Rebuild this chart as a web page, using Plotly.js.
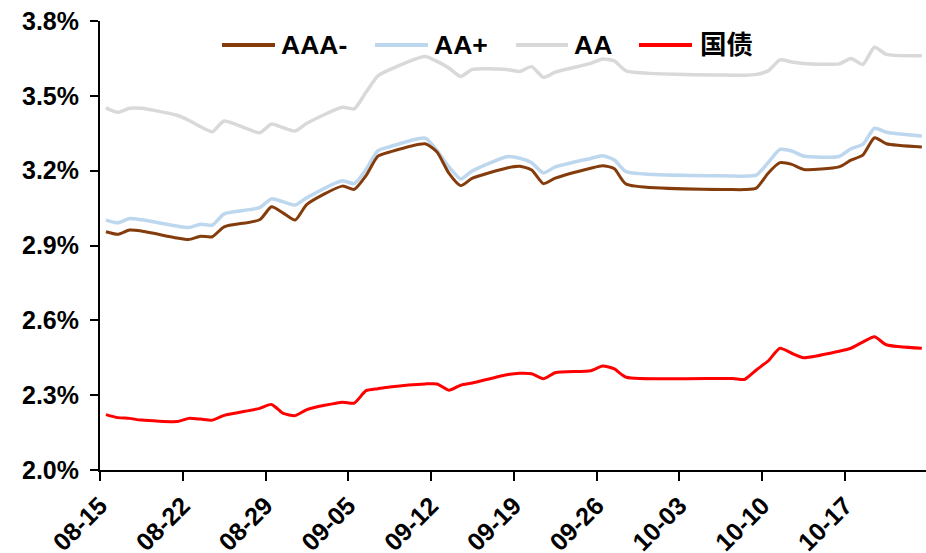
<!DOCTYPE html>
<html><head><meta charset="utf-8">
<script src="https://cdn.plot.ly/plotly-3.0.1.min.js"></script>
<style>html,body{margin:0;padding:0;background:#fff}#chart{width:926px;height:553px}</style>
</head><body><div id="chart"></div>
<script>
const dates = ['2023-08-15','2023-08-16','2023-08-17','2023-08-18','2023-08-21','2023-08-22','2023-08-23','2023-08-24','2023-08-25','2023-08-28','2023-08-29','2023-08-30','2023-08-31','2023-09-01','2023-09-04','2023-09-05','2023-09-06','2023-09-07','2023-09-08','2023-09-11','2023-09-12','2023-09-13','2023-09-14','2023-09-15','2023-09-18','2023-09-19','2023-09-20','2023-09-21','2023-09-22','2023-09-25','2023-09-26','2023-09-27','2023-09-28','2023-10-07','2023-10-08','2023-10-09','2023-10-10','2023-10-11','2023-10-12','2023-10-13','2023-10-16','2023-10-17','2023-10-18','2023-10-19','2023-10-20','2023-10-23'];

const aaaMinus = [2.955,2.945,2.962,2.958,2.930,2.924,2.937,2.935,2.975,3.003,3.055,3.030,3.002,3.065,3.138,3.125,3.180,3.258,3.275,3.308,3.275,3.190,3.140,3.170,3.212,3.218,3.203,3.148,3.170,3.210,3.220,3.208,3.146,3.124,3.124,3.130,3.190,3.232,3.225,3.205,3.215,3.242,3.262,3.332,3.308,3.295];

const aaPlus = [3.002,2.991,3.008,3.003,2.978,2.972,2.985,2.982,3.027,3.052,3.087,3.075,3.062,3.092,3.160,3.148,3.205,3.280,3.296,3.330,3.280,3.215,3.167,3.200,3.257,3.250,3.232,3.191,3.215,3.249,3.260,3.243,3.196,3.179,3.178,3.182,3.232,3.285,3.279,3.259,3.257,3.288,3.305,3.370,3.354,3.339];

const aa = [3.452,3.434,3.450,3.450,3.422,3.402,3.376,3.356,3.399,3.352,3.387,3.372,3.359,3.390,3.454,3.448,3.515,3.580,3.605,3.658,3.638,3.612,3.578,3.606,3.605,3.598,3.617,3.574,3.595,3.630,3.648,3.640,3.600,3.583,3.583,3.586,3.600,3.644,3.636,3.630,3.628,3.650,3.626,3.695,3.666,3.661];

const govt = [2.222,2.210,2.207,2.200,2.194,2.207,2.204,2.200,2.219,2.247,2.263,2.227,2.218,2.242,2.272,2.268,2.318,2.326,2.333,2.345,2.345,2.320,2.340,2.349,2.383,2.388,2.386,2.366,2.390,2.398,2.417,2.405,2.372,2.367,2.363,2.401,2.437,2.488,2.468,2.450,2.476,2.488,2.513,2.534,2.502,2.488];

const seriesNames = ['AAA-','AA+','AA','国债'];
const seriesColors = ['#843C0C','#BDD7EE','#D9D9D9','#FF0000'];
const yTicks = [2.0,2.3,2.6,2.9,3.2,3.5,3.8];
const xTickDates = ['2023-08-15','2023-08-22','2023-08-29','2023-09-05','2023-09-12','2023-09-19','2023-09-26','2023-10-03','2023-10-10','2023-10-17'];
const xTickLabels = ['08-15','08-22','08-29','09-05','09-12','09-19','09-26','10-03','10-10','10-17'];

const xs = dates.map(d => d + ' 12:00');
const FONT = 'Arial, "Liberation Sans", "Noto Sans CJK SC", sans-serif';

function tr(y, i, width) {
  return {x: xs, y: y, name: seriesNames[i], type: 'scatter', mode: 'lines',
    line: {color: seriesColors[i], width: width, shape: 'spline', smoothing: 0.6},
    showlegend: false, hoverinfo: 'skip'};
}
const data = [
  tr(aa, 2, 3.5),
  tr(aaPlus, 1, 3.5),
  tr(aaaMinus, 0, 3),
  tr(govt, 3, 3)
];

// legend drawn as shapes + text (pixel layout converted to paper coords)
const L = 100, W = 826, T = 21, H = 449;
const px = v => (v - L) / W;
const py = v => (T + H - v) / H;
const legendSample = [[222, 275], [375, 428], [516, 568], [639, 692]];
const legendTextX = [279, 432, 572, 698];
const legendY = 45;
const shapes = legendSample.map((s, i) => ({type: 'line', xref: 'paper', yref: 'paper',
  x0: px(s[0]), x1: px(s[1]), y0: py(legendY), y1: py(legendY),
  line: {color: seriesColors[i], width: 4}}));
const annotations = legendTextX.map((x, i) => ({xref: 'paper', yref: 'paper',
  x: px(x), y: py(legendY), xanchor: 'left', yanchor: 'middle', showarrow: false,
  text: seriesNames[i], font: {family: FONT, size: 26.5, color: '#000', weight: 'bold'}}));

const layout = {
  width: 926, height: 553,
  margin: {l: L, r: 0, t: T, b: 83, pad: 0},
  paper_bgcolor: '#fff', plot_bgcolor: '#fff',
  font: {family: FONT, size: 25, color: '#000', weight: 'bold'},
  showlegend: false,
  shapes: shapes, annotations: annotations,
  xaxis: {type: 'date', range: ['2023-08-15', '2023-10-23 20:24'],
    tickvals: xTickDates, ticktext: xTickLabels, tickangle: -45,
    showline: true, linecolor: '#000', linewidth: 2,
    ticks: 'outside', ticklen: 9, tickwidth: 2, tickcolor: '#000',
    showgrid: false, zeroline: false,
    tickfont: {family: FONT, size: 25, color: '#000', weight: 'bold'}},
  yaxis: {range: [2.0, 3.8], tickvals: yTicks, ticktext: yTicks.map(v => v.toFixed(1) + '%'),
    showline: true, linecolor: '#000', linewidth: 2,
    ticks: 'outside', ticklen: 8, tickwidth: 2, tickcolor: '#000',
    showgrid: false, zeroline: false, ticklabelstandoff: 6,
    tickfont: {family: FONT, size: 25, color: '#000', weight: 'bold'}}
};

Plotly.newPlot('chart', data, layout, {staticPlot: true, displayModeBar: false});
</script></body></html>
